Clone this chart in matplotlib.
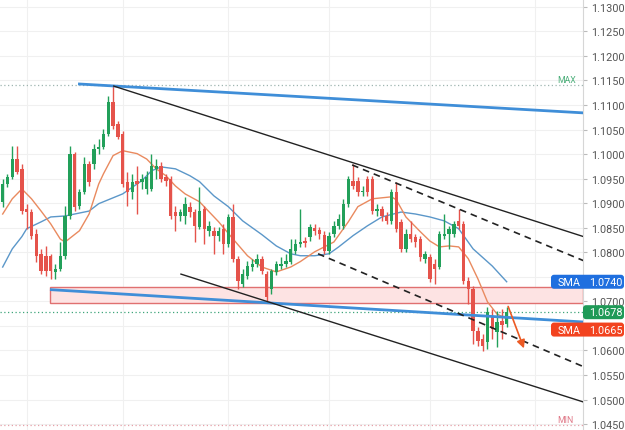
import numpy as np
import matplotlib.pyplot as plt
from matplotlib.patches import FancyBboxPatch, Rectangle
from matplotlib.transforms import IdentityTransform

plt.rcParams['font.family'] = ['Roboto', 'DejaVu Sans']

# daily candles
opens = [1.0903, 1.0939, 1.0954, 1.0990, 1.0970, 1.0889, 1.0882, 1.0838, 1.0797, 1.0793,
         1.0793, 1.0760, 1.0766, 1.0793, 1.0874, 1.1001, 1.0895, 1.0923, 1.0980, 1.0980,
         1.1011, 1.1015, 1.1041, 1.1106, 1.1062, 1.1041, 1.0944, 1.0923, 1.0946, 1.0944,
         1.0929, 1.0929, 1.0970, 1.0976, 1.0954, 1.0950, 1.0882, 1.0874, 1.0874, 1.0893,
         1.0882, 1.0852, 1.0889, 1.0844, 1.0844, 1.0834, 1.0848, 1.0817, 1.0872, 1.0787,
         1.0736, 1.0752, 1.0770, 1.0777, 1.0787, 1.0756, 1.0726, 1.0760, 1.0772, 1.0777,
         1.0781, 1.0803, 1.0817, 1.0823, 1.0832, 1.0850, 1.0846, 1.0836, 1.0803, 1.0838,
         1.0854, 1.0854, 1.0899, 1.0946, 1.0946, 1.0923, 1.0950, 1.0950, 1.0884, 1.0889,
         1.0874, 1.0864, 1.0923, 1.0862, 1.0807, 1.0838, 1.0832, 1.0827, 1.0787, 1.0791,
         1.0777, 1.0770, 1.0834, 1.0838, 1.0838, 1.0864, 1.0858, 1.0742, 1.0726, 1.0640,
         1.0624, 1.0618, 1.0671, 1.0638, 1.0660, 1.0654]
highs = [1.0950, 1.0960, 1.1017, 1.1017, 1.0980, 1.0899, 1.0889, 1.0848, 1.0807, 1.0813,
         1.0797, 1.0777, 1.0821, 1.0895, 1.1017, 1.1005, 1.0929, 1.0994, 1.0986, 1.1021,
         1.1031, 1.1051, 1.1119, 1.1139, 1.1068, 1.1047, 1.0964, 1.0960, 1.0976, 1.0960,
         1.0966, 1.1001, 1.0990, 1.0984, 1.0960, 1.0956, 1.0895, 1.0889, 1.0913, 1.0903,
         1.0889, 1.0933, 1.0895, 1.0864, 1.0852, 1.0852, 1.0858, 1.0878, 1.0899, 1.0793,
         1.0766, 1.0783, 1.0787, 1.0797, 1.0793, 1.0762, 1.0766, 1.0783, 1.0791, 1.0797,
         1.0827, 1.0827, 1.0889, 1.0832, 1.0858, 1.0858, 1.0852, 1.0844, 1.0842, 1.0864,
         1.0878, 1.0909, 1.0956, 1.0980, 1.0954, 1.0935, 1.0956, 1.0956, 1.0899, 1.0895,
         1.0882, 1.0929, 1.0944, 1.0868, 1.0848, 1.0864, 1.0838, 1.0834, 1.0803, 1.0797,
         1.0787, 1.0844, 1.0878, 1.0854, 1.0864, 1.0889, 1.0864, 1.0750, 1.0732, 1.0648,
         1.0634, 1.0689, 1.0685, 1.0681, 1.0685, 1.0689]
lows = [1.0893, 1.0933, 1.0950, 1.0960, 1.0878, 1.0848, 1.0827, 1.0781, 1.0756, 1.0752,
        1.0746, 1.0746, 1.0762, 1.0787, 1.0868, 1.0884, 1.0889, 1.0919, 1.0935, 1.0970,
        1.1001, 1.1011, 1.1037, 1.1051, 1.1031, 1.0933, 1.0895, 1.0909, 1.0878, 1.0929,
        1.0919, 1.0925, 1.0950, 1.0944, 1.0935, 1.0868, 1.0844, 1.0864, 1.0858, 1.0872,
        1.0821, 1.0848, 1.0817, 1.0834, 1.0797, 1.0823, 1.0797, 1.0811, 1.0781, 1.0726,
        1.0730, 1.0746, 1.0762, 1.0770, 1.0756, 1.0701, 1.0715, 1.0754, 1.0766, 1.0770,
        1.0777, 1.0797, 1.0811, 1.0811, 1.0823, 1.0836, 1.0827, 1.0797, 1.0797, 1.0832,
        1.0848, 1.0848, 1.0893, 1.0929, 1.0915, 1.0915, 1.0915, 1.0878, 1.0874, 1.0864,
        1.0858, 1.0858, 1.0842, 1.0801, 1.0801, 1.0821, 1.0811, 1.0783, 1.0779, 1.0740,
        1.0736, 1.0766, 1.0827, 1.0807, 1.0832, 1.0848, 1.0736, 1.0695, 1.0614, 1.0609,
        1.0599, 1.0603, 1.0624, 1.0607, 1.0624, 1.0648]
closes = [1.0939, 1.0954, 1.0990, 1.0964, 1.0884, 1.0882, 1.0834, 1.0793, 1.0762, 1.0762,
          1.0762, 1.0766, 1.0793, 1.0874, 1.1001, 1.0893, 1.0923, 1.0980, 1.0944, 1.1011,
          1.1015, 1.1041, 1.1106, 1.1058, 1.1035, 1.0939, 1.0923, 1.0944, 1.0939, 1.0950,
          1.0954, 1.0976, 1.0976, 1.0950, 1.0946, 1.0874, 1.0874, 1.0882, 1.0899, 1.0882,
          1.0854, 1.0884, 1.0848, 1.0854, 1.0834, 1.0844, 1.0817, 1.0872, 1.0787, 1.0742,
          1.0756, 1.0772, 1.0777, 1.0787, 1.0762, 1.0709, 1.0762, 1.0777, 1.0777, 1.0783,
          1.0807, 1.0817, 1.0821, 1.0819, 1.0852, 1.0844, 1.0838, 1.0803, 1.0834, 1.0854,
          1.0868, 1.0899, 1.0950, 1.0935, 1.0923, 1.0925, 1.0923, 1.0884, 1.0889, 1.0874,
          1.0864, 1.0923, 1.0848, 1.0807, 1.0838, 1.0827, 1.0821, 1.0791, 1.0797, 1.0746,
          1.0766, 1.0838, 1.0838, 1.0848, 1.0858, 1.0854, 1.0742, 1.0726, 1.0640, 1.0620,
          1.0609, 1.0678, 1.0644, 1.0658, 1.0652, 1.0678]

# moving averages, read at some bars
fast_idx = [0, 2, 4, 6, 8, 10, 12, 13, 16, 18, 20, 21, 23, 25, 28, 30, 32, 34, 36, 38,
            41, 45, 48, 51, 54, 57, 60, 62, 65, 69, 72, 74, 77, 81, 82, 84, 87, 89, 91, 93,
            95, 97, 99, 101, 103, 105]
fast_val = [1.0878, 1.0909, 1.0929, 1.0909, 1.0884, 1.0858, 1.0827, 1.0821, 1.0844, 1.0878,
            1.0939, 1.0960, 1.0997, 1.1007, 1.1001, 1.0990, 1.0970, 1.0956, 1.0935, 1.0919,
            1.0903, 1.0862, 1.0827, 1.0793, 1.0770, 1.0760, 1.0770, 1.0781, 1.0801, 1.0821,
            1.0862, 1.0893, 1.0909, 1.0913, 1.0907, 1.0872, 1.0842, 1.0823, 1.0811, 1.0813,
            1.0811, 1.0787, 1.0746, 1.0699, 1.0674, 1.0665]
slow_idx = [0, 2, 4, 5, 8, 10, 13, 18, 20, 25, 29, 31, 33, 36, 39, 41, 44, 47, 50, 54,
            57, 60, 62, 65, 68, 70, 73, 76, 79, 83, 86, 89, 92, 95, 98, 102, 105]
slow_val = [1.0770, 1.0807, 1.0832, 1.0848, 1.0862, 1.0872, 1.0874, 1.0884, 1.0899, 1.0919,
            1.0946, 1.0966, 1.0974, 1.0970, 1.0956, 1.0944, 1.0915, 1.0893, 1.0864, 1.0836,
            1.0813, 1.0797, 1.0793, 1.0793, 1.0797, 1.0811, 1.0834, 1.0854, 1.0872, 1.0882,
            1.0878, 1.0872, 1.0864, 1.0848, 1.0807, 1.0772, 1.0740]

price_ticks = [1.0450, 1.0500, 1.0550, 1.0600, 1.0650, 1.0700, 1.0750, 1.0800, 1.0850,
               1.0900, 1.0950, 1.1000, 1.1050, 1.1100, 1.1150, 1.1200, 1.1250, 1.1300]
covered_ticks = [1.0650, 1.0750]   # hidden under the price tags
period_starts = [5, 25, 47, 68, 89, 111]

max_price = 1.1141
min_price = 1.0449
last_price = 1.0678
sma_fast_last = 1.0665
sma_slow_last = 1.0740

# drawn objects (bar index, price)
blue_top = [(15.7, 1.1143), (121, 1.1084)]
blue_bottom = [(9.85, 1.0724), (121, 1.0658)]
zone = (9.85, 1.0697, 1.0729)
chan_top = [(23, 1.1139), (121, 1.0832)]
chan_bottom = [(37, 1.0756), (121, 1.0495)]
dash_top = [(72.8, 1.0978), (121, 1.0783)]
dash_bottom = [(65.7, 1.0797), (121, 1.0567)]
arrow = [(105.1, 1.0695), (108.8, 1.0599)]

GREEN = '#22a05a'
RED = '#e5534b'

fig = plt.figure(figsize=(6.25, 4.31), dpi=100)
ax = fig.add_axes([0, 0, 583 / 625, 1])
ax.set_xlim(-0.56, 120.9)
ax.set_ylim(1.0438, 1.1316)

for s in ['top', 'left', 'bottom']:
    ax.spines[s].set_visible(False)
ax.spines['right'].set_color('#d6d6d6')
ax.yaxis.tick_right()
ax.set_yticks(price_ticks)
ax.set_yticklabels(['' if t in covered_ticks else '%.4f' % t for t in price_ticks])
ax.tick_params(axis='y', length=3, color='#bbbbbb', labelcolor='#555555',
               labelsize=7.8, pad=3)
ax.set_xticks([])
for t in price_ticks:
    ax.axhline(t, color='#f0f0f0', lw=0.8, zorder=0)
for p in period_starts:
    ax.axvline(p, color='#f0f0f0', lw=0.8, zorder=0)

ax.axhline(max_price, color='#9fb5b0', lw=0.9, ls=(0, (1, 2)), zorder=1)
ax.axhline(min_price, color='#e6a0a8', lw=0.9, ls=(0, (1, 2)), zorder=1)
ax.axhline(last_price, color='#3fa57a', lw=0.9, ls=(0, (1, 2)), zorder=1)

# zone
ax.add_patch(Rectangle((zone[0], zone[1]), 121 - zone[0], zone[2] - zone[1],
                       facecolor='#fde3e3', edgecolor='#e07070', lw=1, zorder=1))

# moving averages
ax.plot(slow_idx, slow_val, color='#5b97c9', lw=1, zorder=2)
ax.plot(fast_idx, fast_val, color='#e98a5f', lw=1, zorder=2)

# candles
idx = np.arange(len(closes))
o = np.array(opens)
c = np.array(closes)
cols = [GREEN if cc >= oo else RED for oo, cc in zip(o, c)]
ax.vlines(idx, lows, highs, color=cols, lw=1, zorder=3)
body = np.maximum(np.abs(c - o), 0.00012)
ax.bar(idx, body, bottom=np.minimum(o, c), width=0.74, color=cols, zorder=4)

# drawings
for line, col, lw, ls in [(blue_top, '#3f8ed8', 2, '-'), (blue_bottom, '#3f8ed8', 2, '-'),
                          (chan_top, '#222222', 1, '-'), (chan_bottom, '#222222', 1, '-'),
                          (dash_top, '#222222', 1.2, (0, (4, 3))),
                          (dash_bottom, '#222222', 1.2, (0, (4, 3)))]:
    ax.plot([line[0][0], line[1][0]], [line[0][1], line[1][1]], color=col, lw=lw,
            ls=ls, zorder=5, solid_capstyle='butt')
ax.annotate('', xy=arrow[1], xytext=arrow[0],
            arrowprops=dict(arrowstyle='-|>', color='#ec5a24', lw=1.2, mutation_scale=12),
            zorder=6)

# price labels on the right
def ypix(p):
    return ax.transData.transform((0, p))[1]

ident = IdentityTransform()

def tag(x0, yc, color, left, right):
    fig.add_artist(FancyBboxPatch((x0, yc - 7), 625 - x0 - 1, 14,
                                  boxstyle='round,pad=0,rounding_size=3',
                                  facecolor=color, edgecolor='none', transform=ident,
                                  zorder=5))
    if left:
        fig.text(558, yc, left, color='white', fontsize=7.8, va='center',
                 transform=ident, zorder=6)
    fig.text(589, yc, right, color='white', fontsize=7.8, va='center',
             transform=ident, zorder=6)

tag(551, ypix(sma_slow_last), '#1f6fdf', 'SMA', '%.4f' % sma_slow_last)
tag(583, ypix(last_price), '#1f9a57', None, '%.4f' % last_price)
tag(551, ypix(sma_fast_last) - 11, '#f2431f', 'SMA', '%.4f' % sma_fast_last)

fig.text(557, ypix(max_price) + 5, 'MAX', color='#4caf7a', fontsize=6.3,
         va='center', transform=ident)
fig.text(557, ypix(min_price) + 5, 'MIN', color='#e07b8a', fontsize=6.3,
         va='center', transform=ident)

fig.savefig('out.png', dpi=100)
